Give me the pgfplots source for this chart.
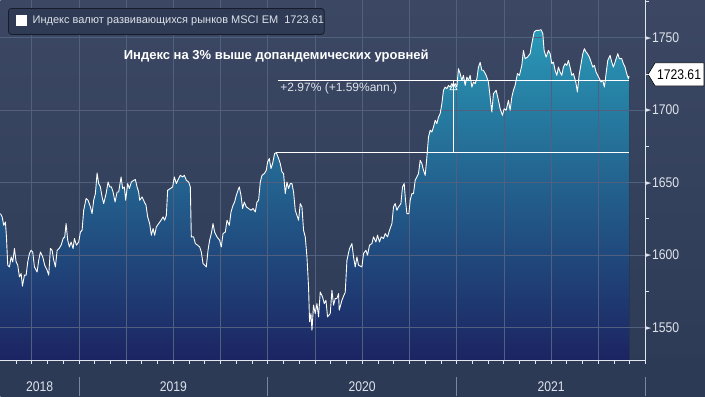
\documentclass[border=0pt]{standalone}
\usepackage{pgfplots}
\pgfplotsset{compat=1.18}
\usepgfplotslibrary{fillbetween}
\usepackage{pgfplotstable}
\usepackage{fontspec}
\setmainfont{Liberation Sans}
\newfontfamily\narrow[FakeStretch=0.87]{Liberation Sans}
\newfontfamily\dejavu{DejaVu Sans}
\definecolor{bgtop}{RGB}{60,72,99}
\definecolor{bgbot}{RGB}{44,58,86}
\definecolor{axisc}{RGB}{225,230,238}
\definecolor{gridc}{RGB}{80,96,126}
\definecolor{fillt}{RGB}{41,152,182}
\definecolor{fillm}{RGB}{31,96,145}
\definecolor{fillb}{RGB}{28,36,98}
\definecolor{legbg}{RGB}{47,59,84}
\definecolor{legbd}{RGB}{22,28,44}
\definecolor{txtc}{RGB}{222,227,235}
\definecolor{sepc}{RGB}{120,134,160}

\pgfplotstableread{
x y
0 1628.6
1.7 1626.3
3.3 1620.5
5 1622.8
6 1612.5
7.3 1593.0
9 1591.8
10.7 1598.7
12.3 1595.2
14 1604.5
15.7 1595.2
17.3 1593.0
19 1584.9
20.7 1587.2
22 1578.5
24 1586.1
25.7 1586.1
27.3 1595.2
29 1601.0
30.7 1603.3
32.3 1602.1
34 1591.8
36.7 1588.3
38.3 1596.4
40 1602.1
42.3 1598.7
44.3 1593.0
46.7 1589.5
48.3 1586.1
50 1604.5
51.7 1603.3
53.3 1596.4
55 1591.8
56.7 1603.3
58.7 1604.5
60.7 1606.8
62.7 1611.4
64.3 1612.5
65.7 1621.7
67.3 1610.2
69 1605.6
70.7 1609.0
72.7 1604.5
74 1611.4
76 1606.8
78.3 1609.0
80 1615.9
81.7 1617.1
83.3 1630.9
85.7 1639.0
87.7 1637.8
90 1633.2
91.7 1628.6
93.3 1637.8
95 1642.4
96.7 1656.6
98.3 1649.3
100 1647.0
101.7 1640.1
103.3 1635.5
105.7 1642.4
107.7 1650.4
109.3 1647.0
111 1647.0
112.7 1643.5
114.7 1636.6
116.7 1643.5
118.3 1643.5
120.7 1653.9
122.3 1645.9
124 1647.0
125.3 1637.8
127.3 1649.3
129 1645.9
131 1650.4
133.3 1651.6
135 1652.1
136.7 1647.0
138.3 1643.5
139.3 1637.8
141.7 1640.1
144 1636.6
145.7 1634.3
147.3 1626.3
149.3 1621.7
151 1613.7
152.7 1618.3
154.3 1613.7
156 1619.4
158.3 1621.7
160.7 1624.0
162.7 1626.3
164.3 1624.0
166 1627.4
167.3 1644.7
170 1645.9
172.3 1647.0
174 1653.9
176 1649.3
178.3 1652.8
180 1655.0
182.3 1653.9
184 1655.0
186 1651.6
188.3 1650.4
190 1647.0
191 1612.5
193.3 1612.5
195 1607.9
197.3 1606.8
199.3 1605.6
201 1602.1
202.7 1594.1
204.3 1593.0
206 1591.8
207.7 1603.3
209.3 1610.2
211 1614.8
212.7 1621.7
214.3 1615.9
216.7 1612.5
219.3 1610.2
221 1605.6
222.7 1614.8
225 1615.9
226.7 1624.0
229 1620.5
230.7 1629.7
232.7 1634.3
234.3 1636.6
236 1641.2
237.7 1644.7
239 1647.0
240.7 1641.2
242.3 1632.1
244 1636.6
246 1633.2
248.3 1632.1
250.7 1630.9
252.7 1632.1
255 1629.7
256.7 1636.6
258.3 1637.8
260 1650.4
261.7 1655.0
264 1656.2
266 1658.5
267.3 1664.2
269 1666.6
270.7 1659.7
272.3 1663.1
274.3 1670.0
276 1670.7
278.3 1666.6
280 1663.1
281.7 1657.3
283.3 1656.2
285 1642.4
286.7 1650.4
288.3 1645.9
290 1649.3
291.7 1649.3
293.3 1643.5
295 1630.9
296.7 1627.4
298.3 1624.0
300 1635.5
301.7 1633.2
303.3 1617.1
305 1612.5
306.7 1598.7
308.3 1578.0
309.3 1553.9
310.7 1559.6
311.7 1548.1
313.3 1565.4
315 1559.6
316.7 1566.5
318.3 1557.3
320 1574.5
322.3 1571.1
324 1566.5
325.7 1568.8
327.3 1557.3
330 1559.6
331.7 1575.7
333.3 1565.4
335 1570.0
336.7 1570.0
338.3 1573.4
339 1561.9
341.7 1568.8
343.3 1571.6
345 1574.3
346.7 1596.4
349.3 1604.5
351.7 1607.9
353.3 1598.7
355 1591.8
356.7 1598.7
358.3 1593.0
361.7 1591.8
363.3 1601.0
365.7 1603.3
367.3 1599.9
369.3 1606.8
371.7 1607.9
373.3 1612.5
375.7 1609.0
377.3 1613.7
379.3 1609.0
381 1612.5
383.3 1611.4
385 1614.8
387.3 1612.5
389.3 1617.1
391.7 1621.7
393.3 1633.2
395 1635.5
396.7 1630.9
398.3 1633.2
400.7 1635.5
402.3 1647.0
404 1649.3
405.3 1637.8
406.7 1628.6
408.7 1628.6
410 1637.8
411.7 1642.4
413.3 1642.4
415 1651.6
416.7 1653.9
418.3 1656.2
420 1665.4
421.7 1663.1
423.3 1658.5
425 1655.0
426.7 1667.7
428.3 1681.4
430 1686.1
431.7 1684.9
433.3 1688.3
435 1693.0
436.7 1690.7
438.3 1695.2
440 1697.6
441.7 1704.5
443.3 1713.7
445 1715.9
446.7 1714.8
448.3 1717.1
450 1715.9
451.7 1718.3
453.3 1715.9
455 1718.3
456.7 1715.9
458.3 1728.6
460 1725.2
461.7 1720.6
463.3 1724.0
465 1717.1
466.7 1722.8
468.3 1720.6
470 1724.0
471.7 1715.9
473.3 1719.4
475 1718.3
476.7 1721.7
478.3 1729.7
480 1733.0
481.7 1727.5
483.3 1727.5
486 1724.0
488.3 1719.4
490 1709.0
491.7 1698.7
493.3 1711.4
496 1713.7
498.3 1706.8
500 1701.0
502.3 1696.4
504 1701.0
506 1699.9
508.3 1706.8
510 1699.9
511.7 1709.0
513.3 1713.7
515 1717.1
517.3 1725.2
519.3 1724.0
521.7 1730.9
523.3 1741.2
525 1735.5
527.3 1736.6
530 1739.0
531.7 1745.9
534 1753.9
536 1755.0
538.3 1755.0
541 1755.5
542.7 1752.8
544 1741.2
546 1736.6
548.3 1741.2
550 1739.0
551.7 1732.1
553.3 1733.2
555 1727.5
556.7 1724.0
558.3 1729.7
560 1726.3
561.7 1724.0
563.3 1729.7
565 1732.1
566.7 1730.9
568.3 1734.3
570 1729.7
571.7 1724.0
573.3 1725.2
575.7 1719.4
577.3 1712.5
579 1724.0
581 1732.1
582.7 1739.0
584.3 1742.4
586 1740.1
587.3 1739.0
589.3 1736.6
591 1733.2
592.7 1729.7
594.3 1730.9
596 1726.3
597.7 1724.0
599.3 1721.7
601 1719.4
602.7 1720.6
604.3 1715.9
606 1725.2
607.7 1734.3
610 1737.8
611.7 1733.2
613.3 1729.7
615 1733.2
617.7 1739.0
619.3 1735.5
621.7 1735.5
623.3 1732.1
625 1729.7
626.7 1725.2
628.3 1721.7
629 1723.61
}\idx

\begin{document}
\begin{tikzpicture}[x=1pt,y=1pt]
\begin{axis}[
  set layers=axis on top,
  at={(0,36)}, anchor=south west, scale only axis,
  width=645.5pt, height=360pt,
  xmin=0, xmax=645.5, ymin=1527.4, ymax=1775.7,
  axis x line*=bottom, axis y line*=right,
  x axis line style={-}, y axis line style={-},
  axis line style={axisc, line width=0.9pt},
  tick align=outside,
  major tick length=0pt, minor tick length=3.5pt,
  tick style={axisc, line width=0.8pt},
  xtick={39.25,173,362,551},
  xticklabels={2018,2019,2020,2021},
  minor xtick={15.5,31.25,...,645.5},
  xticklabel style={anchor=center, yshift=-26pt, font=\narrow\fontsize{14}{14}\selectfont, text=txtc},
  ytick={1550,1600,1650,1700,1750},
  yticklabel={\raisebox{2.2pt}{\dejavu\fontsize{7.5}{7.5}\selectfont ►}\hspace{0.5pt}\pgfmathprintnumber[1000 sep={}]{\tick}},
  minor ytick={1575,1625,1675,1725,1775},
  yticklabel style={anchor=west, inner sep=0pt, font=\narrow\fontsize{14}{14}\selectfont, text=txtc},
  /pgf/number format/assume math mode=true,
  clip=false,
]
\begin{pgfonlayer}{axis background}
\shade[top color=bgtop, bottom color=bgbot] (axis cs:0,1502.57) rectangle (axis cs:705,1775.7);
\fill[bgbot] (axis cs:0,1502.57) rectangle (axis cs:705,1527.4);
\draw[sepc, line width=0.8pt] (axis cs:78.5,1502.57) -- (axis cs:78.5,1515.7);
\draw[sepc, line width=0.8pt] (axis cs:267.5,1502.57) -- (axis cs:267.5,1515.7);
\draw[sepc, line width=0.8pt] (axis cs:456.5,1502.57) -- (axis cs:456.5,1515.7);
\draw[sepc, line width=0.8pt] (axis cs:645.5,1502.57) -- (axis cs:645.5,1515.7);
\end{pgfonlayer}
\coordinate (O) at (axis cs:0,1502.57);
\addplot[name path=base, draw=none, forget plot] coordinates {(0,1527.4) (629,1527.4)};
\addplot[name path=main, draw=none, forget plot] table[x=x,y=y] {\idx};
\addplot[shading=axis, top color=fillt, middle color=fillm, bottom color=fillb, draw=none] fill between[of=main and base];
% grid
\draw[gridc, line width=0.6pt] (axis cs:31.2,1527.4) -- (axis cs:31.2,1775.7);
\draw[gridc, line width=0.6pt] (axis cs:78.5,1527.4) -- (axis cs:78.5,1775.7);
\draw[gridc, line width=0.6pt] (axis cs:125.7,1527.4) -- (axis cs:125.7,1775.7);
\draw[gridc, line width=0.6pt] (axis cs:173,1527.4) -- (axis cs:173,1775.7);
\draw[gridc, line width=0.6pt] (axis cs:220.2,1527.4) -- (axis cs:220.2,1775.7);
\draw[gridc, line width=0.6pt] (axis cs:267.5,1527.4) -- (axis cs:267.5,1775.7);
\draw[gridc, line width=0.6pt] (axis cs:314.7,1527.4) -- (axis cs:314.7,1775.7);
\draw[gridc, line width=0.6pt] (axis cs:362,1527.4) -- (axis cs:362,1775.7);
\draw[gridc, line width=0.6pt] (axis cs:409.2,1527.4) -- (axis cs:409.2,1775.7);
\draw[gridc, line width=0.6pt] (axis cs:456.5,1527.4) -- (axis cs:456.5,1775.7);
\draw[gridc, line width=0.6pt] (axis cs:503.7,1527.4) -- (axis cs:503.7,1775.7);
\draw[gridc, line width=0.6pt] (axis cs:551,1527.4) -- (axis cs:551,1775.7);
\draw[gridc, line width=0.6pt] (axis cs:598.2,1527.4) -- (axis cs:598.2,1775.7);
\draw[gridc, line width=0.6pt] (axis cs:0,1550) -- (axis cs:645.5,1550);
\draw[gridc, line width=0.6pt] (axis cs:0,1600) -- (axis cs:645.5,1600);
\draw[gridc, line width=0.6pt] (axis cs:0,1650) -- (axis cs:645.5,1650);
\draw[gridc, line width=0.6pt] (axis cs:0,1700) -- (axis cs:645.5,1700);
\draw[gridc, line width=0.6pt] (axis cs:0,1750) -- (axis cs:645.5,1750);
\addplot[white, line width=0.9pt, line join=round] table[x=x,y=y] {\idx};
\addplot[white, line width=0.8pt] coordinates {(278,1720.3) (629,1720.3)};
\addplot[white, line width=0.8pt] coordinates {(276,1670.7) (629,1670.7)};
\addplot[white, line width=0.8pt] coordinates {(453.3,1670.7) (453.3,1720.3)};
\addplot[only marks, mark=triangle, mark size=4pt, mark options={draw=white, fill=none, line width=0.7pt}] coordinates {(453.3,1715.5)};
\node[anchor=west, text=txtc, font=\fontsize{12}{12}\selectfont, inner sep=0pt] at (axis cs:280,1715.0) {+2.97\% (+1.59\%ann.)};
\end{axis}
\begin{scope}[shift={(O)}]
% legend
\draw[fill=legbg, draw=legbd, line width=0.8pt, rounded corners=3pt] (8,362) rectangle (324,388);
\fill[white] (16,370) rectangle (27,381);
\node[anchor=west, text=txtc, font=\fontsize{11}{11}\selectfont, inner sep=0pt] at (32,375.5) {Индекс валют развивающихся рынков MSCI EM\ \ 1723.61};
% title
\node[text=white, font=\bfseries\fontsize{13}{13}\selectfont] at (276,340) {Индекс на 3\% выше допандемических уровней};
% price tag
\draw[fill=white, draw=black, line width=0.6pt] (648,322) -- (655,333.5) -- (704,333.5) -- (704,310.5) -- (655,310.5) -- cycle;
\node[text=black, font=\narrow\fontsize{14}{14}\selectfont, inner sep=0pt] at (679,322) {1723.61};
\end{scope}
\end{tikzpicture}
\end{document}
